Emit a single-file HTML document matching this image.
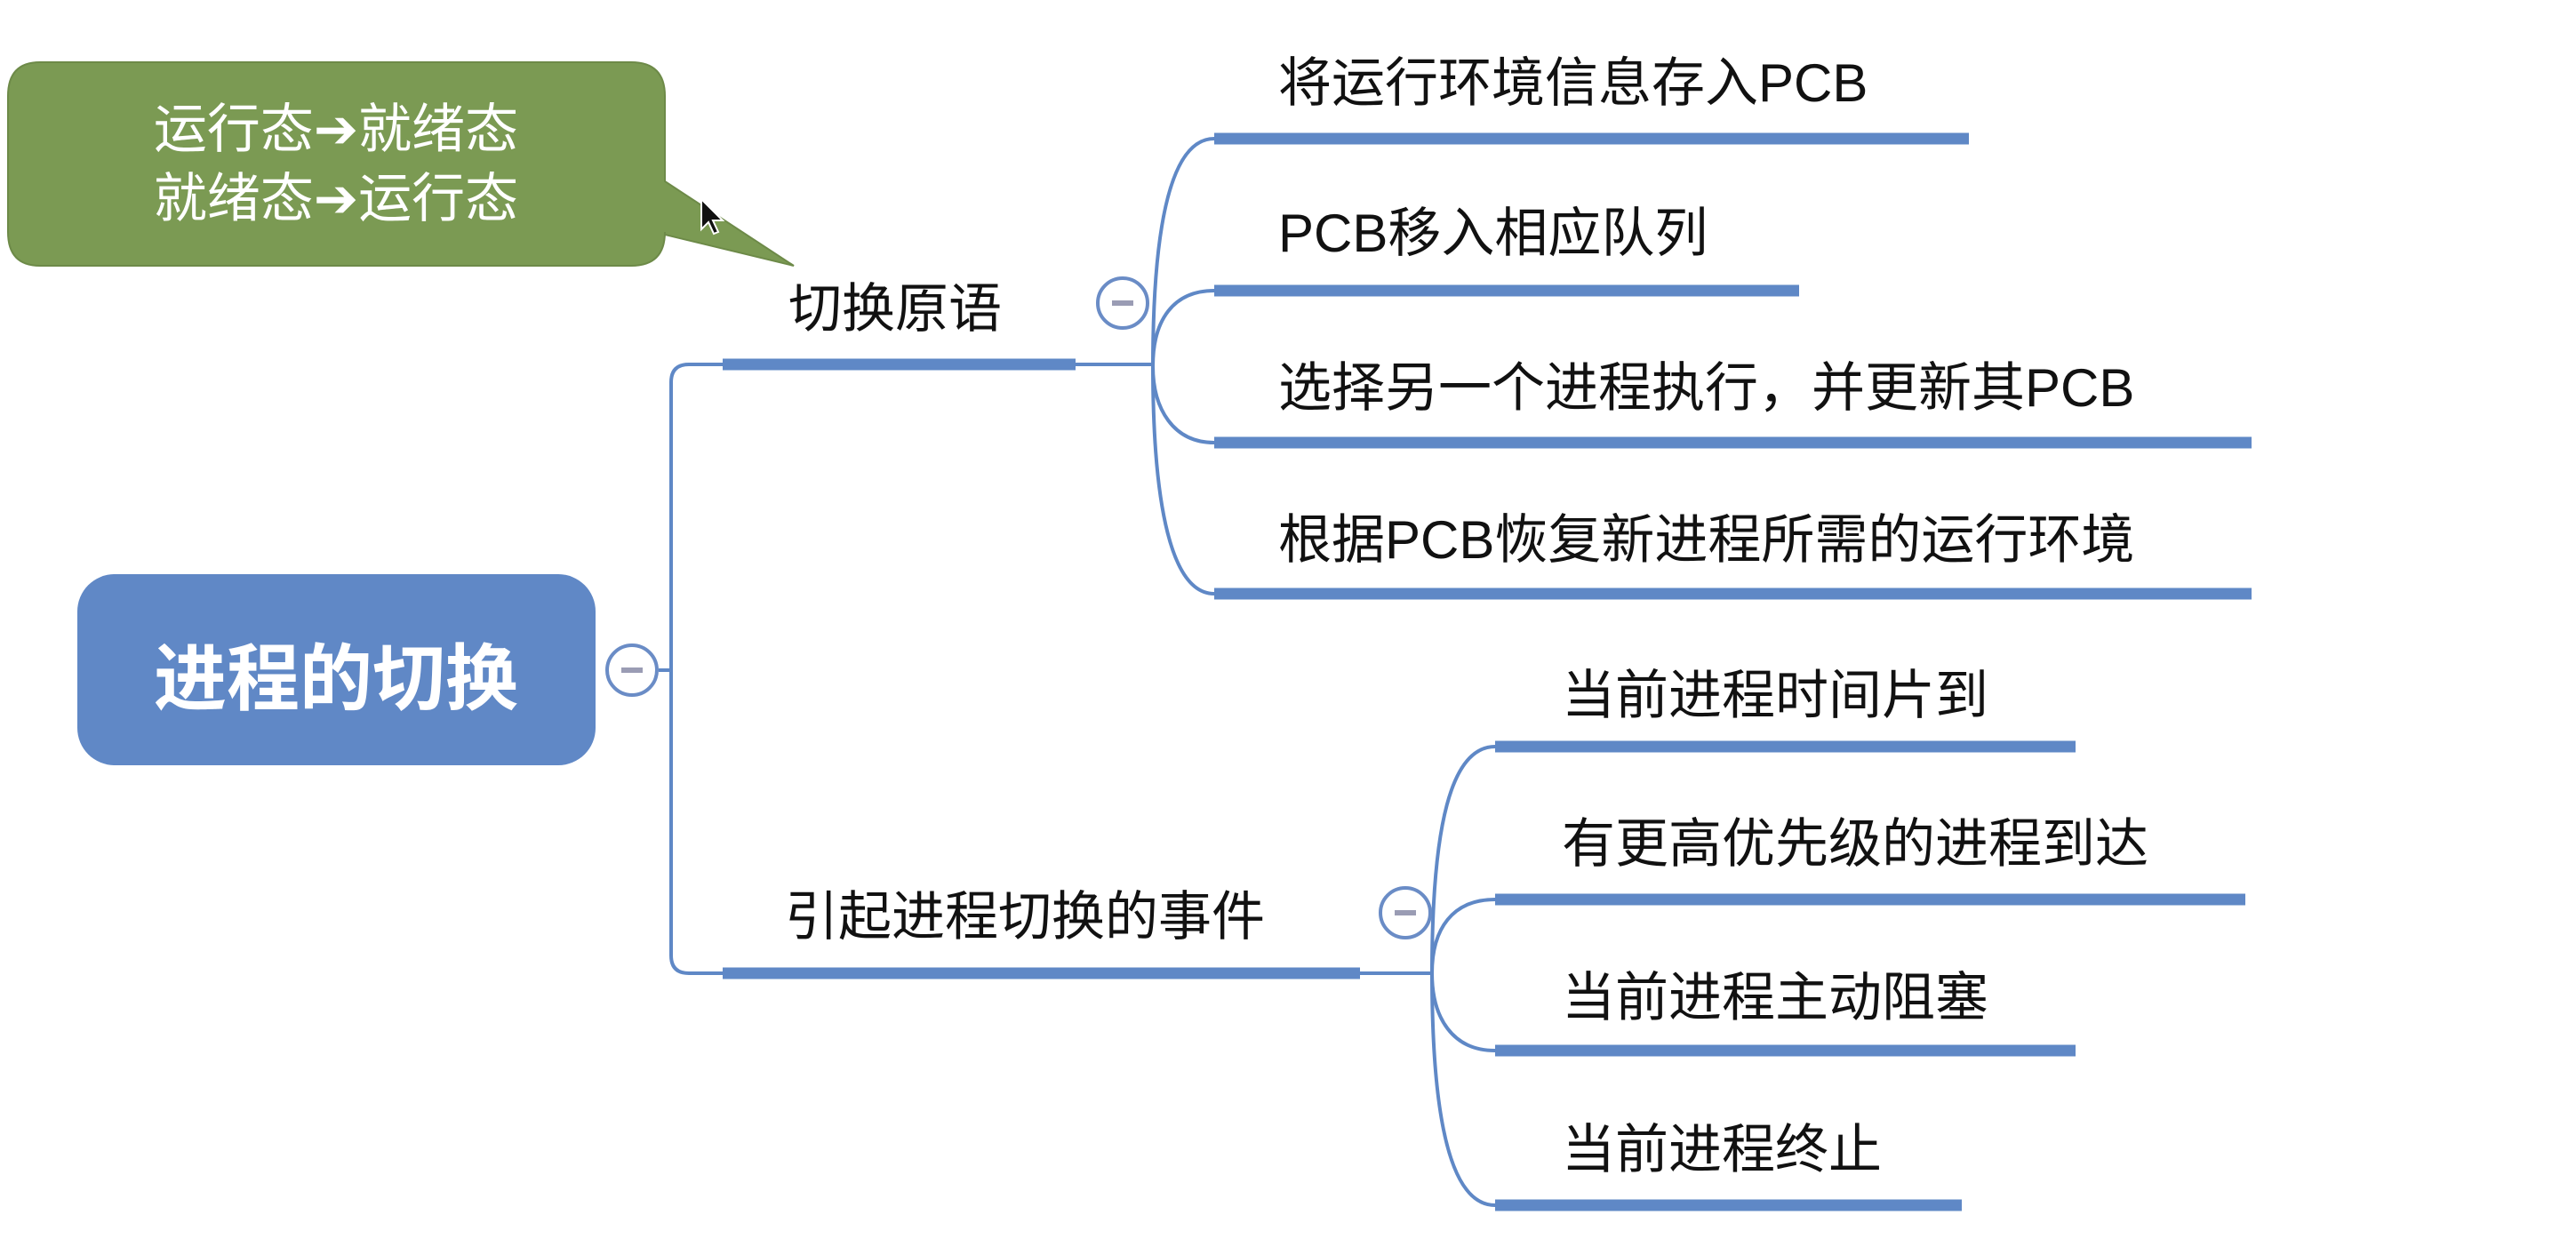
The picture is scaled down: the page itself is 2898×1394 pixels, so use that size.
<!DOCTYPE html>
<html><head><meta charset="utf-8"><style>
html,body{margin:0;padding:0;background:#fff;}
svg{display:block}
text{font-family:"Liberation Sans","Noto Sans CJK SC",sans-serif;}
</style></head><body>
<svg width="2898" height="1394" viewBox="0 0 2898 1394" xmlns="http://www.w3.org/2000/svg">
<!-- callout -->
<path d="M45,70 H710 Q748,70 748,108 V204 L893,299 L748,264 V261 Q748,299 710,299 H45 Q9,299 9,261 V108 Q9,70 45,70 Z" fill="#7b9a53" stroke="#6d8a48" stroke-width="2"/>
<text x="378" y="166" font-size="60" fill="#fff" text-anchor="middle">运行态<tspan font-family="DejaVu Sans" font-weight="bold">➔</tspan>就绪态</text>
<text x="378" y="244" font-size="60" fill="#fff" text-anchor="middle">就绪态<tspan font-family="DejaVu Sans" font-weight="bold">➔</tspan>运行态</text>
<!-- cursor -->
<path d="M789,224 L789,258 L797,250 L803,263 L808,261 L802,248 L813,248 Z" fill="#111" stroke="#fff" stroke-width="2"/>
<!-- root -->
<rect x="87" y="646" width="583" height="215" rx="42" fill="#6088c6"/>
<text x="378" y="792" font-size="82" font-weight="bold" fill="#fff" text-anchor="middle">进程的切换</text>
<g fill="none" stroke="#5f88c6" stroke-width="4">
<path d="M741,754 H755"/>
<path d="M813,410 H775 Q755,410 755,430 V1075 Q755,1095 775,1095 H813"/>
<path d="M1210,410 H1297"/>
<path d="M1530,1095 H1611"/>
<path d="M1297,412 C1297,250 1318,156 1366,156"/>
<path d="M1297,412 C1297,360 1320,327 1366,327"/>
<path d="M1297,412 C1297,460 1320,498 1366,498"/>
<path d="M1297,412 C1297,570 1318,668 1366,668"/>
<path d="M1611,1095 C1611,930 1632,840 1682,840"/>
<path d="M1611,1095 C1611,1045 1634,1012 1682,1012"/>
<path d="M1611,1095 C1611,1145 1634,1182 1682,1182"/>
<path d="M1611,1095 C1611,1260 1632,1356 1682,1356"/>
</g>
<g stroke="#5f88c6" stroke-width="13">
<path d="M813,410 H1210"/>
<path d="M813,1095 H1530"/>
<path d="M1366,156 H2215"/>
<path d="M1366,327 H2024"/>
<path d="M1366,498 H2533"/>
<path d="M1366,668 H2533"/>
<path d="M1682,840 H2335"/>
<path d="M1682,1012 H2526"/>
<path d="M1682,1182 H2335"/>
<path d="M1682,1356 H2207"/>
</g>
<!-- collapse circles -->
<g fill="#fff" stroke="#6a8cc6" stroke-width="4">
<circle cx="711" cy="754" r="28"/>
<circle cx="1263" cy="341" r="28"/>
<circle cx="1581" cy="1027" r="28"/>
</g>
<g stroke="#9a9cb4" stroke-width="6">
<path d="M699,754 H723"/><path d="M1251,341 H1275"/><path d="M1569,1027 H1593"/>
</g>
<g font-size="60" fill="#111">
<text x="887" y="368">切换原语</text>
<text x="883" y="1052">引起进程切换的事件</text>
<text x="1438" y="114">将运行环境信息存入PCB</text>
<text x="1438" y="283">PCB移入相应队列</text>
<text x="1438" y="457">选择另一个进程执行，并更新其PCB</text>
<text x="1438" y="628">根据PCB恢复新进程所需的运行环境</text>
<text x="1757" y="803">当前进程时间片到</text>
<text x="1757" y="970">有更高优先级的进程到达</text>
<text x="1757" y="1143">当前进程主动阻塞</text>
<text x="1757" y="1314">当前进程终止</text>
</g>
</svg>
</body></html>
